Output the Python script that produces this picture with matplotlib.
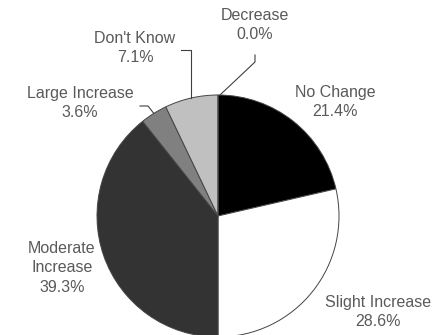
import numpy as np
import matplotlib
matplotlib.use("Agg")
import matplotlib.pyplot as plt

# Survey responses, clockwise from 12 o'clock
categories = ["No Change", "Slight Increase", "Moderate\nIncrease",
              "Large Increase", "Don't Know", "Decrease"]
percents = [21.4, 28.6, 39.3, 3.6, 7.1, 0.0]
colors = ["#000000", "#ffffff", "#333333", "#808080", "#c0c0c0", "#e0e0e0"]

W, H = 445, 335
fig = plt.figure(figsize=(W / 100, H / 100), dpi=100)
ax = fig.add_axes([0, 0, 1, 1])

cx, cy, r = 218, H - 216, 121
ax.pie(percents, colors=colors, startangle=90, counterclock=False,
       center=(cx, cy), radius=r, frame=True,
       wedgeprops=dict(edgecolor="#444444", linewidth=0.7))
ax.set_xlim(0, W)
ax.set_ylim(0, H)
ax.set_aspect("equal")
ax.axis("off")

# mid-angle of each wedge (degrees, math convention)
total = sum(percents)
cum = np.cumsum([0] + percents)
mid = [90 - 360 * (cum[i] + percents[i] / 2) / total for i in range(len(percents))]

def edge(i):
    a = np.deg2rad(mid[i])
    return cx + r * np.cos(a), cy + r * np.sin(a)

label_pos = {
    0: (335, 102),
    1: (378, 312),
    2: (62, 268),
    3: (80, 103),
    4: (135, 48),
    5: (255, 25),
}
txt = dict(fontsize=11.5, color="#5a5a5a", ha="center", va="center",
           family="Liberation Sans", linespacing=1.4)
for i, (x, y) in label_pos.items():
    ax.text(x, H - y, f"{categories[i]}\n{percents[i]:.1f}%", **txt)

line = dict(color="#404040", lw=0.8)
# Decrease
ex, ey = edge(5)
ax.plot([ex + 2, 255, 255], [ey, H - 62, H - 55], **line)
# Don't Know
ex, ey = edge(4)
ax.plot([181, ex, ex], [H - 50, H - 50, ey], **line)
# Large Increase
ex, ey = edge(3)
ax.plot([140, 148, ex], [H - 106, H - 106, ey], **line)

fig.savefig("out.png", dpi=100, facecolor="white")
